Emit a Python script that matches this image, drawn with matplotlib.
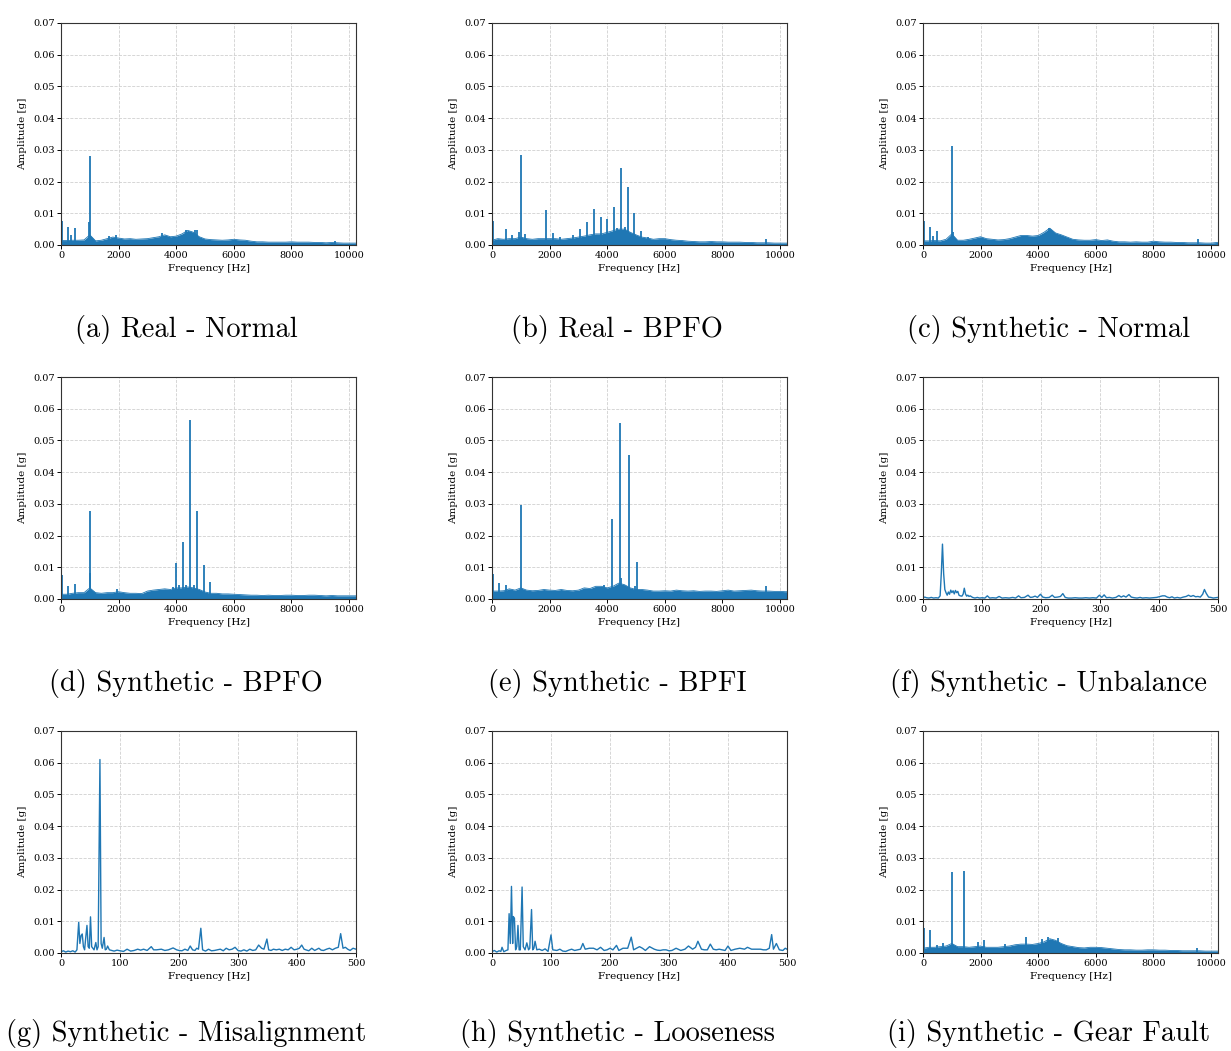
import matplotlib.pyplot as plt
import numpy as np

BLUE = '#1f77b4'
W, H = 1231, 1051

# frequency grid of the broadband noise floor (Hz)
floor_hz = np.append(np.arange(0, 10201, 200), 10240)

# ---- (a) Real - Normal  (amplitudes in mg) ----
a_floor = [1.4, 1.4, 1.5, 1.5, 1.6, 3.2, 1.3, 1.5, 2.0, 2.5, 2.2, 1.9, 2.0, 1.8,
           1.9, 2.0, 2.3, 2.6, 3.2, 2.6, 2.8, 3.5, 4.6, 4.0, 2.6, 1.9, 1.7, 1.6,
           1.5, 1.6, 1.8, 1.6, 1.5, 1.2, 1.0, 1.0, 0.9, 0.9, 0.9, 0.9, 1.0, 0.9,
           0.9, 0.9, 0.8, 0.8, 0.7, 0.8, 0.7, 0.6, 0.6, 0.6, 0.6]
a_peak_hz = [15, 45, 245, 350, 470, 985, 1000, 1650, 1900, 3520, 4350, 4650, 4720, 9500]
a_peak_amp = [7.8, 7.5, 5.7, 3.0, 5.5, 7.3, 28.0, 2.9, 3.0, 3.8, 4.8, 4.7, 4.6, 1.4]

# ---- (b) Real - BPFO ----
b_floor = [1.5, 2.0, 1.8, 2.0, 2.0, 2.5, 2.0, 1.8, 2.0, 2.0, 2.0, 2.0, 1.8, 2.0,
           2.2, 2.5, 2.8, 3.2, 3.5, 3.5, 4.0, 4.5, 5.0, 5.0, 4.0, 3.2, 2.5, 2.2,
           1.8, 2.0, 2.0, 1.7, 1.5, 1.4, 1.2, 1.1, 1.0, 1.0, 1.1, 1.0, 1.0, 0.9,
           0.9, 0.9, 0.8, 0.8, 0.7, 0.7, 0.7, 0.6, 0.6, 0.6, 0.6]
b_peak_hz = [15, 45, 487, 700, 950, 998, 1150, 1891, 2123, 2350, 2800, 3063, 3306,
             3538, 3770, 4002, 4234, 4350, 4478, 4600, 4722, 4942, 5186, 5400, 9524]
b_peak_amp = [7.7, 7.5, 5.2, 3.0, 4.2, 28.4, 3.6, 11.0, 3.8, 2.5, 3.0, 4.9, 7.4,
              11.4, 8.9, 8.3, 11.9, 5.5, 24.2, 5.8, 18.4, 10.2, 4.3, 2.5, 2.0]

# ---- (c) Synthetic - Normal ----
c_floor = [1.3, 1.3, 1.4, 1.3, 1.8, 3.5, 1.5, 1.5, 1.8, 2.2, 2.6, 2.0, 1.8, 1.6,
           1.7, 2.0, 2.5, 3.0, 3.0, 2.8, 3.0, 4.0, 5.3, 3.8, 3.2, 2.5, 1.8, 1.6,
           1.5, 1.5, 1.7, 1.4, 1.6, 1.2, 1.0, 1.0, 0.9, 1.0, 0.9, 0.9, 1.2, 1.0,
           0.9, 0.9, 0.8, 0.8, 0.7, 0.7, 0.7, 0.6, 0.6, 0.8, 0.8]
c_peak_hz = [15, 45, 232, 350, 487, 1009, 1040, 4380, 9536]
c_peak_amp = [7.7, 7.5, 5.7, 2.8, 4.5, 31.3, 4.0, 5.5, 1.8]

# ---- (d) Synthetic - BPFO ----
d_floor = [1.5, 1.5, 1.8, 2.0, 2.0, 3.5, 2.0, 1.8, 2.0, 2.0, 2.3, 2.0, 1.8, 1.8,
           1.7, 2.5, 2.8, 3.0, 3.2, 3.0, 3.5, 3.5, 3.8, 3.5, 3.0, 2.2, 1.8, 1.8,
           1.6, 1.6, 1.5, 1.4, 1.3, 1.2, 1.2, 1.1, 1.2, 1.1, 1.1, 1.2, 1.2, 1.1,
           1.1, 1.2, 1.2, 1.1, 1.0, 1.1, 1.0, 1.0, 1.0, 1.0, 1.0]
d_peak_hz = [15, 45, 240, 470, 1000, 1009, 1950, 3900, 4002, 4100, 4246, 4350,
             4490, 4600, 4722, 4954, 5186]
d_peak_amp = [7.8, 7.5, 4.0, 4.8, 8.2, 27.9, 3.3, 3.7, 11.5, 4.3, 18.1, 4.5,
              56.3, 4.5, 27.9, 10.7, 5.5]

# ---- (e) Synthetic - BPFI ----
e_floor = [2.5, 2.5, 2.6, 3.2, 2.8, 3.5, 2.8, 2.6, 2.7, 3.0, 2.8, 2.7, 3.0, 2.7,
           2.6, 2.8, 3.5, 3.3, 4.0, 4.0, 3.5, 4.0, 5.0, 4.5, 3.5, 3.0, 3.0, 2.8,
           2.5, 2.5, 2.6, 2.5, 2.8, 2.6, 2.5, 2.6, 2.4, 2.5, 2.5, 2.4, 2.6, 2.8,
           2.5, 2.6, 2.7, 2.8, 2.6, 2.5, 2.5, 2.4, 2.4, 2.3, 2.3]
e_peak_hz = [15, 45, 240, 470, 998, 3900, 4153, 4443, 4480, 4745, 4950, 5046, 9500]
e_peak_amp = [8.6, 8.0, 5.2, 4.3, 29.7, 4.5, 25.3, 55.6, 6.7, 45.3, 4.0, 11.6, 4.0]

# ---- (i) Synthetic - Gear Fault ----
i_floor = [1.5, 1.8, 1.8, 2.0, 2.2, 3.0, 2.0, 2.0, 1.8, 2.0, 2.2, 1.8, 1.8, 1.8,
           2.0, 2.2, 2.6, 2.8, 2.8, 2.7, 3.0, 3.5, 4.5, 4.0, 3.0, 2.3, 2.0, 1.7,
           1.6, 1.8, 1.8, 1.7, 1.5, 1.3, 1.1, 1.0, 1.0, 0.9, 0.9, 1.0, 1.0, 0.9,
           0.9, 0.8, 0.8, 0.7, 0.7, 0.7, 0.7, 0.6, 0.6, 0.6, 0.6]
i_peak_hz = [15, 45, 232, 500, 700, 1009, 1427, 1900, 2134, 2850, 3561, 4130,
             4350, 4700, 9500]
i_peak_amp = [8.5, 8.0, 7.1, 2.5, 3.0, 25.6, 26.0, 3.5, 4.2, 2.8, 5.2, 4.5,
              5.0, 4.6, 1.6]

# ---- (f) Synthetic - Unbalance, 0-500 Hz ----
f_hz = [0, 3, 6, 10, 14, 18, 22, 26, 29, 31, 33, 35, 37, 39, 41, 43, 45, 47, 49,
        51, 53, 55, 57, 59, 61, 63, 66, 68, 70, 72, 74, 76, 78, 80, 84, 88, 92,
        96, 100, 105, 109, 113, 118, 124, 129, 134, 140, 146, 152, 157, 162,
        166, 172, 178, 182, 186, 190, 194, 199, 203, 208, 214, 219, 223, 228,
        233, 237, 241, 246, 252, 258, 264, 270, 276, 282, 288, 294, 299, 303,
        307, 311, 316, 321, 327, 332, 336, 340, 344, 349, 353, 358, 363, 368,
        372, 378, 384, 390, 396, 402, 406, 410, 414, 418, 422, 426, 431, 436,
        441, 446, 450, 454, 458, 462, 466, 470, 474, 477, 480, 484, 488, 492,
        496, 500]
f_amp = [0.4, 0.6, 0.4, 0.3, 0.5, 0.3, 0.4, 0.3, 1.0, 8.0, 17.3, 8.0, 3.0, 2.0,
         1.2, 2.2, 1.5, 2.8, 2.0, 2.6, 1.6, 2.7, 2.0, 2.4, 1.2, 1.0, 0.9, 1.5,
         3.4, 1.6, 0.9, 1.2, 0.8, 1.0, 0.5, 0.3, 0.5, 0.3, 0.4, 0.3, 1.0, 0.3,
         0.4, 0.3, 0.8, 0.3, 0.4, 0.3, 0.5, 0.3, 1.0, 0.4, 0.5, 1.2, 0.5, 0.6,
         0.9, 0.5, 1.5, 0.6, 0.4, 0.5, 1.2, 0.5, 0.6, 0.8, 1.7, 0.5, 0.3, 0.3,
         0.4, 0.3, 0.3, 0.4, 0.3, 0.4, 0.3, 1.2, 0.5, 1.3, 0.4, 0.5, 0.3, 0.5,
         1.1, 0.6, 1.0, 0.6, 1.4, 0.6, 0.4, 0.3, 0.5, 0.3, 0.4, 0.3, 0.4, 0.5,
         0.8, 1.0, 1.0, 0.6, 0.4, 0.7, 0.3, 0.5, 0.3, 0.6, 0.8, 1.2, 0.8, 1.1,
         0.7, 0.8, 0.6, 1.5, 3.0, 1.8, 0.6, 0.5, 0.3, 0.4, 0.5]

# ---- (g) Synthetic - Misalignment, 0-500 Hz ----
g_hz = [0, 4, 8, 12, 16, 20, 24, 27, 30, 32, 34, 36, 38, 40, 42, 44, 46, 48,
        50, 52, 54, 56, 59, 61, 63, 66, 68, 70, 73, 75, 77, 79, 82, 86, 90, 95,
        100, 106, 112, 118, 124, 130, 135, 140, 146, 153, 157, 162, 170, 176,
        182, 190, 196, 200, 205, 210, 215, 219, 223, 227, 230, 233, 237, 240,
        245, 250, 255, 260, 265, 270, 275, 280, 285, 290, 295, 300, 305, 310,
        315, 320, 325, 330, 335, 340, 344, 349, 352, 356, 360, 365, 370, 375,
        380, 385, 390, 395, 400, 404, 408, 412, 415, 420, 425, 430, 437, 441,
        445, 450, 455, 460, 465, 470, 474, 478, 482, 486, 490, 495, 500]
g_amp = [0.4, 0.7, 0.3, 0.6, 0.4, 0.7, 0.3, 1.0, 9.7, 3.0, 5.5, 6.0, 2.0, 1.0,
         5.0, 8.7, 2.0, 1.5, 11.4, 2.0, 1.5, 1.0, 3.3, 1.0, 2.0, 61.0, 3.0,
         1.5, 4.9, 1.0, 1.2, 2.2, 1.0, 0.8, 0.6, 0.9, 0.7, 0.5, 1.2, 0.6, 0.8,
         1.2, 0.9, 1.2, 0.8, 2.0, 1.0, 1.0, 1.2, 0.8, 1.0, 1.6, 1.0, 0.8, 0.7,
         1.2, 0.8, 2.2, 1.0, 0.8, 1.5, 1.2, 7.8, 1.0, 0.6, 1.2, 0.7, 0.8, 1.0,
         1.2, 0.7, 1.5, 1.0, 1.2, 1.8, 0.8, 0.6, 1.0, 0.6, 1.2, 0.8, 1.0, 2.5,
         1.5, 1.2, 4.4, 1.0, 0.8, 1.2, 1.0, 1.2, 0.8, 1.2, 1.0, 1.8, 1.0, 1.2,
         1.5, 2.5, 1.2, 1.0, 0.7, 1.5, 0.8, 1.5, 0.9, 0.8, 1.2, 1.5, 1.0, 1.5,
         1.8, 6.1, 1.5, 1.8, 1.2, 0.8, 1.5, 1.2]

# ---- (h) Synthetic - Looseness, 0-500 Hz ----
h_hz = [0, 4, 8, 12, 15, 17, 20, 24, 27, 29, 31, 33, 35, 36, 38, 40, 42, 44, 46,
        48, 51, 53, 56, 59, 62, 64, 67, 69, 71, 73, 76, 80, 85, 90, 95, 100,
        103, 110, 115, 120, 125, 130, 135, 140, 145, 150, 154, 158, 165, 172,
        178, 184, 190, 195, 200, 205, 211, 215, 222, 230, 236, 240, 245, 250,
        255, 260, 267, 275, 280, 285, 290, 295, 300, 305, 312, 320, 327, 333,
        340, 345, 349, 355, 360, 365, 370, 375, 380, 385, 390, 395, 400, 405,
        412, 420, 428, 433, 440, 448, 455, 460, 465, 470, 474, 477, 482, 487,
        493, 497, 500]
h_amp = [0.4, 0.8, 0.3, 0.7, 0.5, 1.8, 0.4, 0.8, 1.0, 12.4, 3.0, 21.0, 3.0,
         11.5, 11.0, 1.0, 2.0, 8.7, 1.0, 1.0, 20.8, 2.0, 1.0, 3.2, 1.0, 1.5,
         13.7, 1.0, 1.5, 3.7, 1.0, 1.2, 0.8, 1.3, 0.5, 5.7, 1.0, 0.8, 1.2, 0.6,
         0.5, 0.9, 1.2, 0.8, 1.0, 1.2, 3.0, 1.2, 1.5, 1.5, 1.0, 1.8, 0.8, 1.0,
         1.5, 1.0, 2.4, 0.8, 1.5, 1.5, 5.0, 1.0, 1.5, 2.0, 1.5, 0.8, 2.0, 1.2,
         0.9, 0.8, 1.0, 1.0, 0.7, 0.8, 1.5, 0.8, 1.2, 2.2, 1.2, 1.8, 3.7, 1.2,
         1.0, 1.0, 2.8, 1.2, 1.0, 1.2, 1.0, 0.8, 2.2, 0.8, 1.2, 1.5, 1.2, 1.8,
         1.2, 1.2, 1.2, 1.0, 1.0, 1.5, 5.8, 1.2, 3.0, 1.0, 0.8, 1.5, 1.2]

captions = ['(a) Real - Normal', '(b) Real - BPFO', '(c) Synthetic - Normal',
            '(d) Synthetic - BPFO', '(e) Synthetic - BPFI', '(f) Synthetic - Unbalance',
            '(g) Synthetic - Misalignment', '(h) Synthetic - Looseness',
            '(i) Synthetic - Gear Fault']

broadband = {0: (a_floor, a_peak_hz, a_peak_amp),
             1: (b_floor, b_peak_hz, b_peak_amp),
             2: (c_floor, c_peak_hz, c_peak_amp),
             3: (d_floor, d_peak_hz, d_peak_amp),
             4: (e_floor, e_peak_hz, e_peak_amp),
             8: (i_floor, i_peak_hz, i_peak_amp)}
lowband = {5: (f_hz, f_amp), 6: (g_hz, g_amp), 7: (h_hz, h_amp)}

plt.rcParams['font.family'] = 'DejaVu Serif'

fig = plt.figure(figsize=(W / 100, H / 100), dpi=100)

col_left = [61, 492, 923]
row_top = [23, 377, 731]
cap_x = [186, 617, 1049]
cap_y = [329, 684, 1033]
ax_w, ax_h = 295, 222

for k in range(9):
    r, c = divmod(k, 3)
    ax = fig.add_axes([col_left[c] / W, 1 - (row_top[r] + ax_h) / H, ax_w / W, ax_h / H])

    if k in broadband:
        floor, pk_hz, pk_amp = broadband[k]
        floor = np.array(floor) / 1000
        ax.fill_between(floor_hz, 0, floor, color=BLUE, lw=0)
        ax.plot(floor_hz, floor, color=BLUE, lw=0.6)
        ax.vlines(pk_hz, 0, np.array(pk_amp) / 1000, color=BLUE, lw=1.3)
        ax.set_xlim(0, 10240)
        ax.set_xticks([0, 2000, 4000, 6000, 8000, 10000])
    else:
        hz, amp = lowband[k]
        ax.plot(hz, np.array(amp) / 1000, color=BLUE, lw=1.0)
        ax.set_xlim(0, 500)
        ax.set_xticks([0, 100, 200, 300, 400, 500])

    ax.set_ylim(0, 0.07)
    ax.set_yticks(np.arange(0, 0.0701, 0.01))
    ax.yaxis.set_major_formatter(plt.FormatStrFormatter('%.2f'))
    ax.grid(True, ls='--', lw=0.6, color='#d0d0d0')
    ax.set_axisbelow(True)
    ax.tick_params(labelsize=7, length=3, width=0.7, pad=1.5)
    for s in ax.spines.values():
        s.set_linewidth(0.8)
        s.set_color('#333333')
    ax.set_xlabel('Frequency [Hz]', fontsize=7.5, labelpad=2.5)
    ax.set_ylabel('Amplitude [g]', fontsize=7.5, labelpad=4.5)

    fig.text(cap_x[c] / W, 1 - cap_y[r] / H, captions[k], fontsize=20.5,
             family='cmr10', ha='center', va='center')

fig.savefig('out.png', dpi=100)
